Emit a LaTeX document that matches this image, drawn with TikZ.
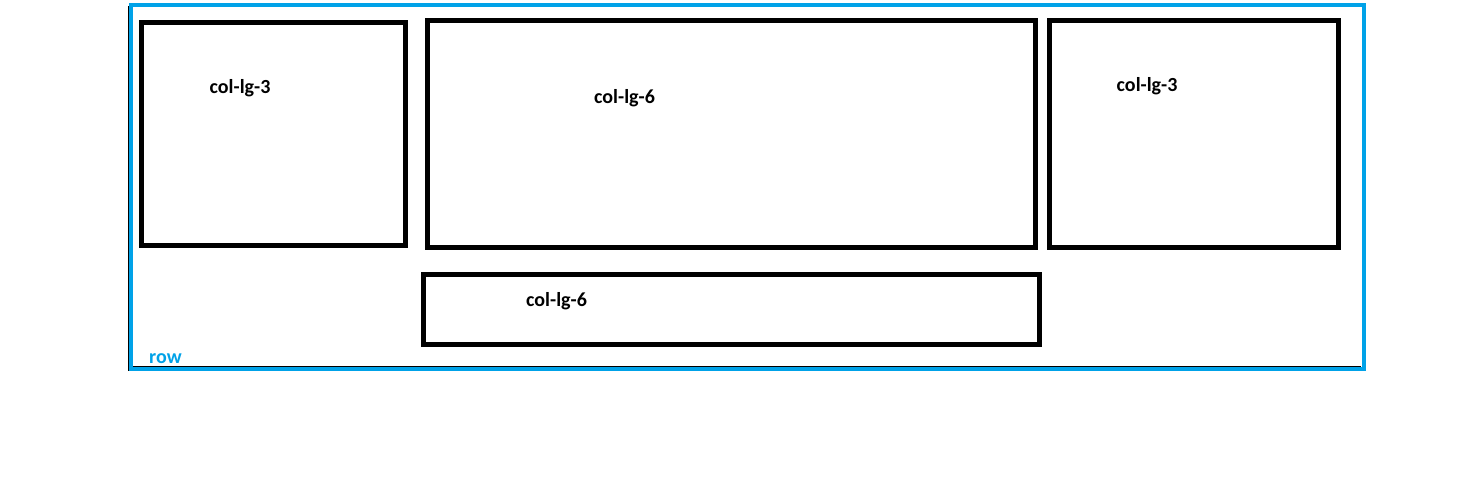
\documentclass[tikz,border=0pt]{standalone}
\usepackage{fontspec}
\setmainfont{Carlito}
\usepackage{xcolor}
\usepackage{tikz}
\usetikzlibrary{positioning}
\definecolor{rowblue}{HTML}{00A2E8}
\tikzset{
  colbox/.style={draw, line width=5pt, minimum width=#1, inner sep=0pt},
  rowbox/.style={draw=rowblue, line width=4pt, inner sep=0pt},
  lbl/.style={anchor=base west, inner sep=0pt, font=\fontsize{20}{24}\selectfont\bfseries},
}

\begin{document}
\begin{tikzpicture}[x=1pt, y=-1pt]
  \useasboundingbox (0,0) rectangle (1458,486);
  % row container
  \node[rowbox, minimum width=1233pt, minimum height=364pt] (row) at (747,187) {};
  \coordinate (rl1) at (128,6);
  \coordinate (rl2) at (128,371);
  \coordinate (rb1) at (133,366.5);
  \coordinate (rb2) at (1361,366.5);
  \draw[line width=1pt] (rl1) -- (rl2);
  \draw[line width=1pt] (rb1) -- (rb2);
  % columns
  \node[colbox=263.5pt, minimum height=223pt] (c1) at (273.25,134) {};
  \node[colbox=608pt, minimum height=226.7pt] (c2) at (731,134.15) {};
  \node[colbox=289pt, minimum height=227pt] (c3) at (1194,134) {};
  \node[colbox=616pt, minimum height=70pt] (c4) at (731.5,309) {};
  % labels
  \node[lbl] (t1) at (209.5,94) {col-lg-3};
  \node[lbl] (t2) at (594,104) {col-lg-6};
  \node[lbl] (t3) at (1116.5,92) {col-lg-3};
  \node[lbl] (t4) at (526,306) {col-lg-6};
  \node[lbl, text=rowblue] (t5) at (149,363) {row};
\end{tikzpicture}
\end{document}
